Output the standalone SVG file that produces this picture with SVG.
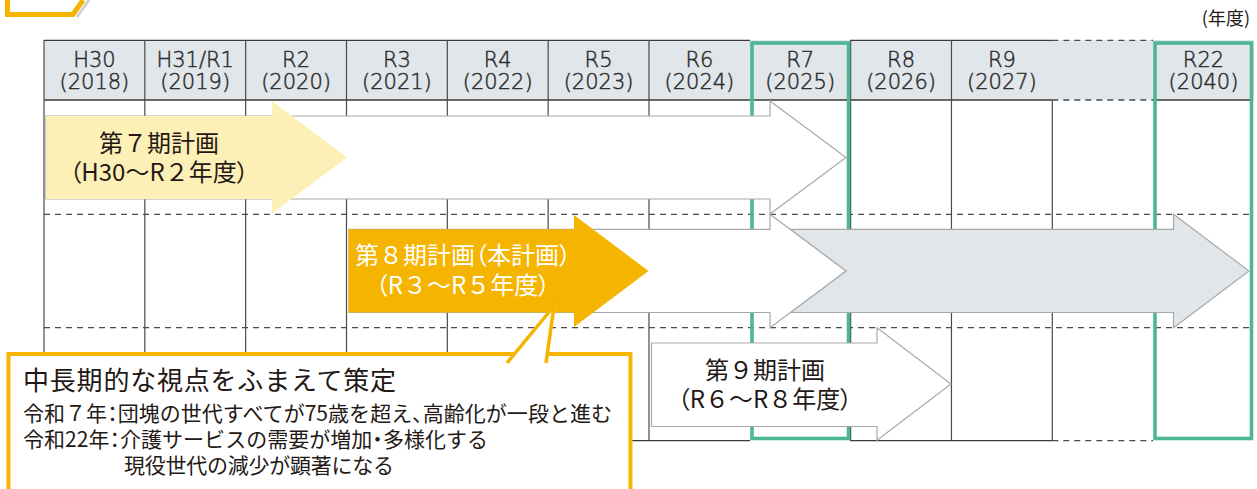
<svg xmlns="http://www.w3.org/2000/svg" width="1257" height="489" viewBox="0 0 1257 489">
<defs>
<style>
.hdr{fill:#e1e6ea}
.ln{stroke:#3a3a3a;stroke-width:1.3;fill:none}
.vl{stroke:#4a4a4a;stroke-width:1.2;fill:none}
.dash{stroke:#4a4a4a;stroke-width:1.3;stroke-dasharray:6 5;fill:none}
.green{fill:none;stroke:#4db793;stroke-width:3.6}
.warr{fill:#ffffff;stroke:#a9a9a9;stroke-width:1.2}
.garr{fill:#e1e6ea;stroke:#a9a9a9;stroke-width:1.2}
.yt{font-family:"DejaVu Sans","Liberation Sans",sans-serif;font-size:21px;fill:#2a2a2a;stroke:#2a2a2a;stroke-width:0.45px;text-anchor:middle;font-weight:200}
.jp{font-family:"Noto Sans CJK JP",sans-serif;fill:#231815}
.lbl{font-size:24px;text-anchor:middle}
.pa{font-feature-settings:"palt"}
.org{stroke:#f5b400;fill:none}
</style>
</defs>

<g id="corner-mark">
<line x1="77" y1="17" x2="89" y2="0" stroke="#d2d2d2" stroke-width="3"/>
<polyline class="org" stroke-width="5" points="7.5,0 7.5,14.5 73,14.5 83,0"/>
</g>

<text id="unit" class="jp" x="1250" y="25" font-size="18" text-anchor="end">(年度)</text>

<g id="table">
<rect class="hdr" x="44" y="40" width="1210" height="60"/>
<line class="ln" x1="44" y1="40.3" x2="750" y2="40.3"/>
<line class="ln" x1="850" y1="40.3" x2="1052.3" y2="40.3"/>
<line class="dash" x1="1052.3" y1="40.3" x2="1153" y2="40.3"/>
<line class="ln" x1="44" y1="100" x2="1052.3" y2="100"/>
<line class="dash" x1="1052.3" y1="100" x2="1153" y2="100"/>
<line class="ln" x1="1153" y1="100" x2="1252" y2="100" stroke="#777"/>
<line class="ln" x1="630" y1="440.7" x2="750" y2="440.7"/>
<line class="ln" x1="850" y1="440.7" x2="1052.3" y2="440.7"/>
<line class="dash" x1="1052.3" y1="440.7" x2="1153" y2="440.7"/>
<line class="dash" x1="44" y1="214.3" x2="1252" y2="214.3"/>
<line class="dash" x1="44" y1="327.7" x2="1252" y2="327.7"/>
<g class="vl">
<line x1="44" y1="40" x2="44" y2="440.7"/>
<line x1="144.83" y1="40" x2="144.83" y2="440.7"/>
<line x1="245.66" y1="40" x2="245.66" y2="440.7"/>
<line x1="346.49" y1="40" x2="346.49" y2="440.7"/>
<line x1="447.32" y1="40" x2="447.32" y2="440.7"/>
<line x1="548.15" y1="40" x2="548.15" y2="440.7"/>
<line x1="648.98" y1="40" x2="648.98" y2="440.7"/>
<line x1="850.64" y1="40" x2="850.64" y2="440.7"/>
<line x1="951.47" y1="40" x2="951.47" y2="440.7"/>
<line x1="1052.3" y1="100" x2="1052.3" y2="440.7"/>
</g>
<g class="yt">
<text x="94.4" y="67">H30</text><text x="94.4" y="89">(2018)</text>
<text x="195.2" y="67">H31/R1</text><text x="195.2" y="89">(2019)</text>
<text x="296.1" y="67">R2</text><text x="296.1" y="89">(2020)</text>
<text x="396.9" y="67">R3</text><text x="396.9" y="89">(2021)</text>
<text x="497.7" y="67">R4</text><text x="497.7" y="89">(2022)</text>
<text x="598.6" y="67">R5</text><text x="598.6" y="89">(2023)</text>
<text x="699.4" y="67">R6</text><text x="699.4" y="89">(2024)</text>
<text x="800.2" y="67">R7</text><text x="800.2" y="89">(2025)</text>
<text x="901.1" y="67">R8</text><text x="901.1" y="89">(2026)</text>
<text x="1001.9" y="67">R9</text><text x="1001.9" y="89">(2027)</text>
<text x="1203.5" y="67">R22</text><text x="1203.5" y="89">(2040)</text>
</g>
</g>

<g id="highlight-r7"><rect class="green" x="752" y="43" width="96.5" height="395.5"/></g>
<g id="highlight-r22"><rect class="green" x="1155" y="43" width="96.5" height="395.5"/></g>

<g id="arrow-plan7-range"><polygon class="warr" points="46,116 770,116 770,101 846,157.5 770,214 770,199 46,199"/></g>
<g id="arrow-longterm"><polygon class="garr" points="790,229.3 1173.5,229.3 1173.5,214.3 1249,271 1173.5,327.7 1173.5,312.5 790,312.5 846,271"/></g>
<g id="arrow-plan8-range"><polygon class="warr" points="349,229.3 770,229.3 770,214.3 846,271 770,327.7 770,312.5 349,312.5"/></g>

<g id="arrow-plan9">
<polygon class="warr" points="651.5,343 877,343 877,327.7 951,384 877,440.3 877,426.5 651.5,426.5"/>
<g class="jp lbl">
<text x="765" y="378.5">第９期計画</text>
<text x="765" y="408"><tspan class="pa">（</tspan>R６～R８年度<tspan class="pa">）</tspan></text>
</g>
</g>

<g id="arrow-plan7">
<polygon fill="#fdf0b6" points="46,116 272,116 272,101 347,157.5 272,213.5 272,199 46,199"/>
<g class="jp lbl">
<text x="159" y="151.5">第７期計画</text>
<text x="159" y="181"><tspan class="pa">（</tspan>H30～R２年度<tspan class="pa">）</tspan></text>
</g>
</g>

<g id="arrow-plan8">
<polygon fill="#f5b400" points="348.5,229.3 574,229.3 574,215 648.5,271 574,327 574,312.5 348.5,312.5"/>
<g class="jp lbl" style="fill:#ffffff">
<text x="463" y="263.5">第８期計画<tspan class="pa">（</tspan>本計画<tspan class="pa">）</tspan></text>
<text x="463" y="293.5"><tspan class="pa">（</tspan>R３～R５年度<tspan class="pa">）</tspan></text>
</g>
</g>

<g id="callout">
<rect x="8.5" y="354" width="622" height="150" fill="#ffffff" stroke="#f5b400" stroke-width="4"/>
<g class="jp">
<text x="23" y="390" font-size="26" textLength="373">中長期的な視点をふまえて策定</text>
<text x="23" y="420.5" font-size="21" textLength="589">令和７年<tspan class="pa">：</tspan>団塊の世代すべてが75歳を超え<tspan class="pa">、</tspan>高齢化が一段と進む</text>
<text x="23" y="447" font-size="21" textLength="465">令和22年<tspan class="pa">：</tspan>介護サービスの需要が増加<tspan class="pa">・</tspan>多様化する</text>
<text x="124" y="472.5" font-size="21" textLength="270">現役世代の減少が顕著になる</text>
</g>
</g>

<g id="connectors">
<polygon points="507,363 556.5,303 546,363" fill="#ffffff"/>
<polyline class="org" stroke-width="3.5" points="507,363 556.5,303"/>
<polyline class="org" stroke-width="3.5" points="546,363 554.5,303"/>
</g>
</svg>
